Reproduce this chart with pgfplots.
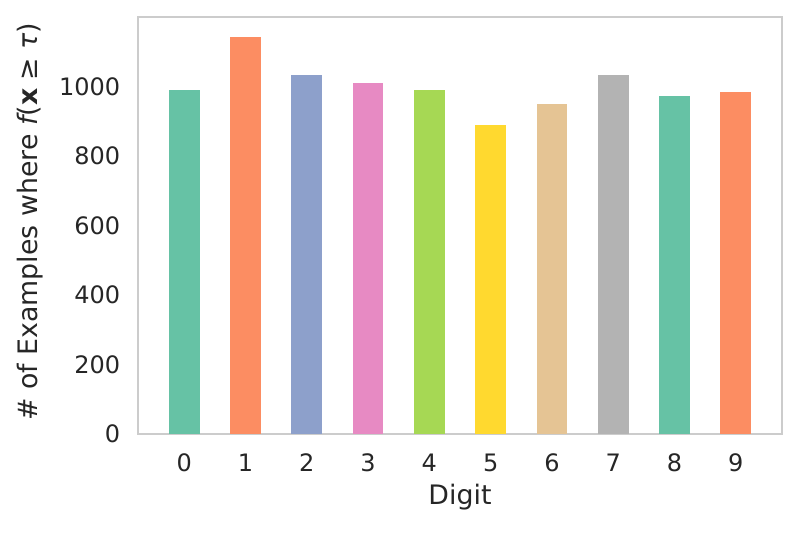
\documentclass[border=0pt]{standalone}
\usepackage{fontspec}
\setmainfont{DejaVu Sans}
\usepackage{pgfplots}
\pgfplotsset{compat=1.18}
\usetikzlibrary{calc}

% Set2 palette
\definecolor{cA}{HTML}{66C2A5}
\definecolor{cB}{HTML}{FC8D62}
\definecolor{cC}{HTML}{8DA0CB}
\definecolor{cD}{HTML}{E78AC3}
\definecolor{cE}{HTML}{A6D854}
\definecolor{cF}{HTML}{FFD92F}
\definecolor{cG}{HTML}{E5C494}
\definecolor{cH}{HTML}{B3B3B3}
\definecolor{txt}{HTML}{262626}

\begin{document}
\begin{tikzpicture}
\begin{axis}[
  scale only axis, width=321.7bp, height=208.4bp,
  ybar, bar width=0.5, bar shift=0pt,
  xmin=-0.75, xmax=9.75, ymin=0, ymax=1200,
  xtick={0,...,9}, ytick={0,200,...,1000},
  major tick length=0pt,
  axis line style={draw=black!20, line width=1bp},
  tick label style={font=\fontsize{12bp}{14bp}\selectfont, text=txt},
  /pgf/number format/assume math mode=true,
  /pgf/number format/1000 sep={},
  xticklabel style={yshift=-6.5bp},
  yticklabel style={xshift=-5.5bp},
  xlabel={Digit},
  ylabel={\# of Examples where {\itshape f}(\textbf{x} ≥ {\itshape τ})},
  every axis x label/.style={at={(axis description cs:0.5,0)}, yshift=-31.5bp, anchor=center,
    font=\fontsize{13.4bp}{15bp}\selectfont, text=txt},
  every axis y label/.style={at={(axis description cs:0,0.5)}, xshift=-54.2bp, yshift=2bp, rotate=90, anchor=center,
    font=\fontsize{13.4bp}{15bp}\selectfont, text=txt},
  grid=none,
]
\addplot[fill=cA, draw=none] coordinates {(0,990)};
\addplot[fill=cB, draw=none] coordinates {(1,1143)};
\addplot[fill=cC, draw=none] coordinates {(2,1034)};
\addplot[fill=cD, draw=none] coordinates {(3,1012)};
\addplot[fill=cE, draw=none] coordinates {(4,990)};
\addplot[fill=cF, draw=none] coordinates {(5,890)};
\addplot[fill=cG, draw=none] coordinates {(6,950)};
\addplot[fill=cH, draw=none] coordinates {(7,1033)};
\addplot[fill=cA, draw=none] coordinates {(8,973)};
\addplot[fill=cB, draw=none] coordinates {(9,984)};
\end{axis}
\pgfresetboundingbox
\path[use as bounding box] ($(current axis.south west)+(-69.15bp,-50bp)$) rectangle ($(current axis.north east)+(9.15bp,8.65bp)$);
\end{tikzpicture}
\end{document}
